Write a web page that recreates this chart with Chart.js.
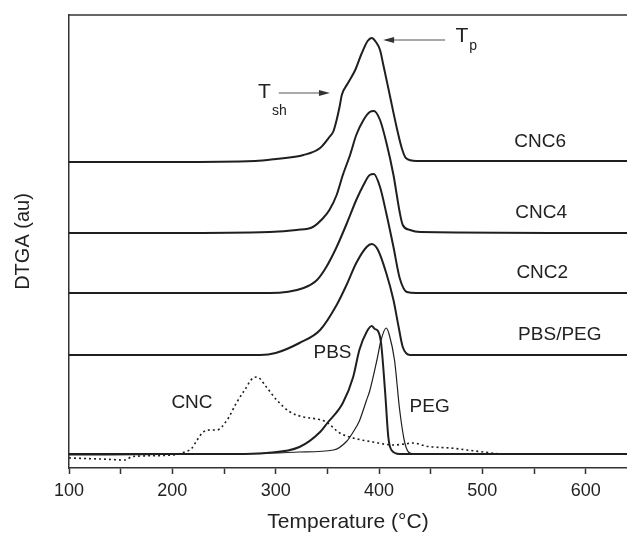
<!DOCTYPE html>
<html>
<head>
<meta charset="utf-8">
<script src="https://cdn.jsdelivr.net/npm/chart.js@4/dist/chart.umd.min.js"></script>
<style>
    html, body { margin: 0; padding: 0; background: #fff; }
</style>
</head>
<body>
<canvas id="chartDtga" width="627" height="535"></canvas>
<script>
// temperatures (°C) and DTGA values (au, offset curves)
const cnc6T = [100, 200, 280, 300, 327, 343, 352, 356, 359, 362, 364, 370, 377, 383, 389, 393, 397, 401, 404, 410, 417, 422, 426, 436, 500, 640];
const cnc6V = [306, 306, 307, 309, 313, 320, 331, 337, 348, 362, 373, 385, 398, 414, 427, 430, 426, 418, 404, 375, 341, 320, 310, 307, 307, 307];

const cnc4T = [100, 200, 294, 320, 336, 346, 352, 359, 365, 372, 378, 385, 391, 395, 401, 407, 414, 420, 423, 430, 440, 640];
const cnc4V = [235, 235, 236, 238, 241, 250, 258, 273, 293, 313, 333, 348, 356, 357, 348, 326, 293, 256, 243, 238, 236, 235];

const cnc2T = [100, 200, 294, 327, 340, 349, 359, 369, 378, 385, 391, 395, 401, 407, 414, 420, 427, 436, 640];
const cnc2V = [175, 175, 175, 180, 188, 201, 221, 245, 268, 283, 293, 294, 281, 255, 221, 190, 176, 175, 175];

const blendT = [100, 200, 285, 300, 323, 343, 359, 369, 378, 388, 393, 399, 407, 414, 419, 423, 430, 640];
const blendV = [113, 113, 113, 115, 125, 138, 163, 184, 205, 221, 224, 218, 195, 168, 141, 121, 113, 113];

const pbsT = [100, 260, 291, 323, 343, 350, 365, 375, 381, 388, 393, 396, 399, 402, 406, 409, 412, 420, 640];
const pbsV = [14, 14, 15, 21, 36, 45, 65, 91, 118, 136, 142, 139, 137, 125, 75, 31, 18, 14, 14];

const pegT = [100, 300, 323, 356, 369, 375, 381, 388, 391, 398, 402, 407, 410, 415, 420, 425, 430, 440, 640];
const pegV = [13, 15, 16, 18, 27, 36, 47, 68, 77, 108, 128, 140, 133, 108, 58, 25, 15, 14, 14];

const cncT = [100, 130, 155, 160, 170, 200, 209, 219, 224, 230, 236, 243, 253, 262, 270, 278, 282, 291, 301, 314, 327, 340, 349, 362, 375, 394, 414, 425, 433, 445, 452, 469, 485, 501, 520, 640];
const cncV = [10, 9, 8, 11, 12, 13, 15, 20, 28, 36, 38, 38, 48, 65, 78, 90, 91, 81, 68, 56, 51, 49, 46, 35, 30, 26, 23, 24, 25, 22, 21, 20, 18, 16, 14, 14];

const xTicks = [100, 200, 300, 400, 500, 600];

// curve names, placed in data coordinates
const curveLabels = [
    { text: "CNC6", x: 556, y: 326 },
    { text: "CNC4", x: 557, y: 255 },
    { text: "CNC2", x: 558, y: 195 },
    { text: "PBS/PEG", x: 575, y: 133 },
    { text: "PBS", x: 355, y: 115 },
    { text: "PEG", x: 449, y: 61 },
    { text: "CNC", x: 219, y: 65 }
];

const ink = "#1f1f1f";
const fontFamily = '"Liberation Sans", Arial, Helvetica, sans-serif';

function points(ts, vs) {
    return ts.map((t, i) => ({ x: t, y: vs[i] }));
}

function line(data, width, dash) {
    return {
        data: data,
        borderColor: ink,
        borderWidth: width,
        borderDash: dash || [],
        pointRadius: 0,
        fill: false,
        cubicInterpolationMode: "monotone"
    };
}

function arrow(ctx, x1, y, x2) {
    const dir = Math.sign(x2 - x1);
    ctx.beginPath();
    ctx.moveTo(x1, y);
    ctx.lineTo(x2 - dir * 8, y);
    ctx.stroke();
    ctx.beginPath();
    ctx.moveTo(x2, y);
    ctx.lineTo(x2 - dir * 11, y - 3);
    ctx.lineTo(x2 - dir * 11, y + 3);
    ctx.closePath();
    ctx.fill();
}

function subLabel(ctx, px, py, main, sub, dx, dy) {
    ctx.textAlign = "left";
    ctx.textBaseline = "alphabetic";
    ctx.font = "21px " + fontFamily;
    ctx.fillText(main, px, py);
    const w = ctx.measureText(main).width;
    ctx.font = "14px " + fontFamily;
    ctx.fillText(sub, px + w + dx, py + dy);
}

const notes = {
    id: "notes",
    afterDraw(chart) {
        const { ctx, chartArea, scales } = chart;
        const x = scales.x, y = scales.y;
        ctx.save();

        ctx.strokeStyle = "#333";
        ctx.lineWidth = 1.5;
        ctx.beginPath();
        ctx.moveTo(chartArea.left, chartArea.top);
        ctx.lineTo(chartArea.right, chartArea.top);
        ctx.stroke();

        ctx.fillStyle = "#222";
        ctx.font = "19px " + fontFamily;
        ctx.textAlign = "center";
        ctx.textBaseline = "middle";
        curveLabels.forEach(l => {
            ctx.fillText(l.text, x.getPixelForValue(l.x), y.getPixelForValue(l.y));
        });

        // T_p and T_sh markers
        ctx.strokeStyle = "#555";
        ctx.fillStyle = "#333";
        ctx.lineWidth = 1;
        arrow(ctx, x.getPixelForValue(464), y.getPixelForValue(428), x.getPixelForValue(404));
        arrow(ctx, x.getPixelForValue(303), y.getPixelForValue(375), x.getPixelForValue(352.5));

        ctx.fillStyle = "#222";
        subLabel(ctx, x.getPixelForValue(474), y.getPixelForValue(426), "T", "p", 1, 8);
        subLabel(ctx, x.getPixelForValue(283), y.getPixelForValue(370), "T", "sh", 1, 17);

        ctx.restore();
    }
};

new Chart(document.getElementById("chartDtga"), {
    type: "line",
    data: {
        datasets: [
            line(points(cnc6T, cnc6V), 2),
            line(points(cnc4T, cnc4V), 2),
            line(points(cnc2T, cnc2V), 2),
            line(points(blendT, blendV), 2),
            line(points(pbsT, pbsV), 2),
            line(points(pegT, pegV), 1.2),
            line(points(cncT, cncV), 1.6, [2, 3])
        ]
    },
    options: {
        responsive: false,
        devicePixelRatio: 1,
        animation: false,
        layout: { padding: { top: 15, right: 0, left: 0, bottom: 0 } },
        plugins: {
            legend: { display: false },
            tooltip: { enabled: false }
        },
        scales: {
            x: {
                type: "linear",
                min: 100,
                max: 640,
                ticks: {
                    stepSize: 50,
                    includeBounds: false,
                    autoSkip: false,
                    maxRotation: 0,
                    padding: 6,
                    color: "#222",
                    font: { family: fontFamily, size: 18 },
                    callback: v => xTicks.includes(v) ? v : ""
                },
                grid: {
                    drawOnChartArea: false,
                    drawTicks: true,
                    tickLength: 6,
                    tickColor: "#333",
                    tickWidth: 1.5
                },
                border: { color: "#333", width: 1.5 },
                title: {
                    display: true,
                    text: "Temperature (°C)",
                    color: "#222",
                    font: { family: fontFamily, size: 21 },
                    padding: { top: 0, bottom: 0 }
                },
                afterFit: s => { s.height = 67; }
            },
            y: {
                min: 0,
                max: 453,
                ticks: { display: false },
                grid: { display: false },
                border: { color: "#333", width: 1.5 },
                title: {
                    display: true,
                    text: "DTGA (au)",
                    color: "#222",
                    font: { family: fontFamily, size: 20 },
                    padding: { top: 11, bottom: 0 }
                },
                afterFit: s => { s.width = 69; }
            }
        }
    },
    plugins: [notes]
});
</script>
</body>
</html>
